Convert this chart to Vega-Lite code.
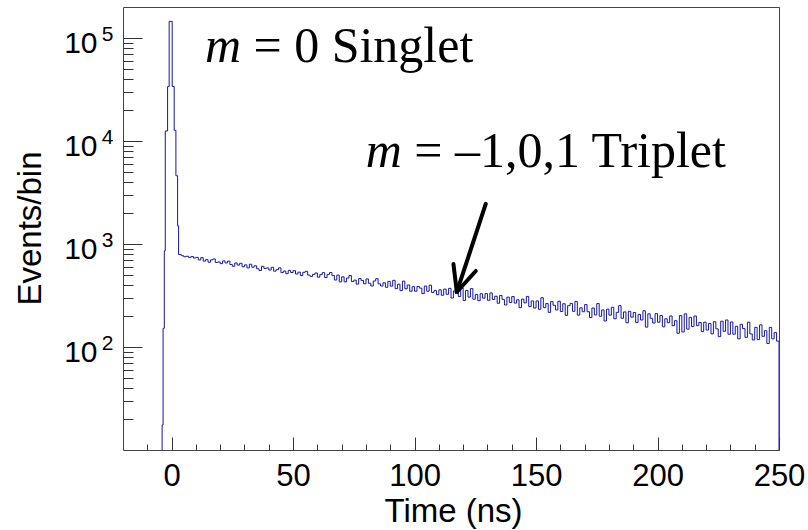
{
  "$schema": "https://vega.github.io/schema/vega-lite/v6.json",
  "width": 656,
  "height": 443,
  "autosize": "none",
  "padding": {"left": 123, "top": 7, "right": 29, "bottom": 80},
  "background": "white",
  "config": {"view": {"stroke": "#444", "strokeWidth": 1}},
  "resolve": {"axis": {"x": "independent", "y": "independent"}},
  "datasets": {
    "hist": [
      {"t":-20,"n":1},{"t":-3.9,"n":17.5},{"t":-3.5,"n":152},{"t":-3.0,"n":860},{"t":-2.6,"n":12500},{"t":-1.65,"n":33800},{"t":-1.0,"n":145000},{"t":0.25,"n":33800},{"t":1.07,"n":12700},{"t":1.77,"n":4600},{"t":2.47,"n":1500},{"t":2.88,"n":790},
      {"t":4,"n":770},{"t":5,"n":752},{"t":6,"n":760},{"t":7,"n":742},{"t":8,"n":755},{"t":9,"n":731},
      {"t":10,"n":742},{"t":11,"n":700},{"t":12,"n":737},{"t":13,"n":682},{"t":14,"n":705},{"t":15,"n":665},{"t":16,"n":701},{"t":17,"n":716},{"t":18,"n":662},{"t":19,"n":670},
      {"t":20,"n":645},{"t":21,"n":686},{"t":22,"n":655},{"t":23,"n":682},{"t":24,"n":632},{"t":25,"n":608},{"t":26,"n":654},{"t":27,"n":624},{"t":28,"n":650},{"t":29,"n":601},
      {"t":30,"n":627},{"t":31,"n":586},{"t":32,"n":636},{"t":33,"n":595},{"t":34,"n":615},{"t":35,"n":575},{"t":36,"n":553},{"t":37,"n":607},{"t":38,"n":579},{"t":39,"n":586},
      {"t":40,"n":559},{"t":41,"n":594},{"t":42,"n":545},{"t":43,"n":564},{"t":44,"n":587},{"t":45,"n":528},{"t":46,"n":546},{"t":47,"n":515},{"t":48,"n":554},{"t":49,"n":529},
      {"t":50,"n":551},{"t":51,"n":511},{"t":52,"n":533},{"t":53,"n":494},{"t":54,"n":531},{"t":55,"n":543},{"t":56,"n":499},{"t":57,"n":485},{"t":58,"n":507},{"t":59,"n":523},
      {"t":60,"n":476},{"t":61,"n":504},{"t":62,"n":527},{"t":63,"n":472},{"t":64,"n":507},{"t":65,"n":528},{"t":66,"n":494},{"t":67,"n":447},{"t":68,"n":499},{"t":69,"n":429},
      {"t":70,"n":480},{"t":71,"n":429},{"t":72,"n":467},{"t":73,"n":494},{"t":74,"n":432},{"t":75,"n":446},{"t":76,"n":408},{"t":77,"n":462},{"t":78,"n":442},{"t":79,"n":411},
      {"t":80,"n":458},{"t":81,"n":416},{"t":82,"n":391},{"t":83,"n":437},{"t":84,"n":461},{"t":85,"n":410},{"t":86,"n":391},{"t":87,"n":420},{"t":88,"n":380},{"t":89,"n":434},
      {"t":90,"n":390},{"t":91,"n":444},{"t":92,"n":369},{"t":93,"n":407},{"t":94,"n":353},{"t":95,"n":436},{"t":96,"n":368},{"t":97,"n":400},{"t":98,"n":348},{"t":99,"n":385},
      {"t":100,"n":348},{"t":101,"n":387},{"t":102,"n":373},{"t":103,"n":330},{"t":104,"n":391},{"t":105,"n":348},{"t":106,"n":398},{"t":107,"n":338},{"t":108,"n":353},{"t":109,"n":322},
      {"t":110,"n":359},{"t":111,"n":318},{"t":112,"n":365},{"t":113,"n":325},{"t":114,"n":371},{"t":115,"n":299},{"t":116,"n":350},{"t":117,"n":337},{"t":118,"n":309},{"t":119,"n":374},
      {"t":120,"n":283},{"t":121,"n":354},{"t":122,"n":305},{"t":123,"n":369},{"t":124,"n":291},{"t":125,"n":324},{"t":126,"n":282},{"t":127,"n":329},{"t":128,"n":298},{"t":129,"n":330},
      {"t":130,"n":284},{"t":131,"n":335},{"t":132,"n":289},{"t":133,"n":311},{"t":134,"n":266},{"t":135,"n":316},{"t":136,"n":290},{"t":137,"n":256},{"t":138,"n":305},{"t":139,"n":270},
      {"t":140,"n":309},{"t":141,"n":267},{"t":142,"n":287},{"t":143,"n":241},{"t":144,"n":292},{"t":145,"n":268},{"t":146,"n":310},{"t":147,"n":247},{"t":148,"n":280},{"t":149,"n":239},
      {"t":150,"n":280},{"t":151,"n":232},{"t":152,"n":301},{"t":153,"n":241},{"t":154,"n":264},{"t":155,"n":217},{"t":156,"n":276},{"t":157,"n":254},{"t":158,"n":229},{"t":159,"n":278},
      {"t":160,"n":221},{"t":161,"n":263},{"t":162,"n":203},{"t":163,"n":252},{"t":164,"n":265},{"t":165,"n":222},{"t":166,"n":277},{"t":167,"n":204},{"t":168,"n":240},{"t":169,"n":220},
      {"t":170,"n":258},{"t":171,"n":220},{"t":172,"n":193},{"t":173,"n":239},{"t":174,"n":205},{"t":175,"n":264},{"t":176,"n":199},{"t":177,"n":229},{"t":178,"n":179},{"t":179,"n":233},
      {"t":180,"n":204},{"t":181,"n":243},{"t":182,"n":188},{"t":183,"n":217},{"t":184,"n":252},{"t":185,"n":190},{"t":186,"n":219},{"t":187,"n":172},{"t":188,"n":222},{"t":189,"n":195},
      {"t":190,"n":216},{"t":191,"n":173},{"t":192,"n":207},{"t":193,"n":183},{"t":194,"n":225},{"t":195,"n":156},{"t":196,"n":210},{"t":197,"n":190},{"t":198,"n":171},{"t":199,"n":211},
      {"t":200,"n":174},{"t":201,"n":202},{"t":202,"n":157},{"t":203,"n":188},{"t":204,"n":172},{"t":205,"n":200},{"t":206,"n":161},{"t":207,"n":180},{"t":208,"n":136},{"t":209,"n":202},
      {"t":210,"n":140},{"t":211,"n":210},{"t":212,"n":149},{"t":213,"n":194},{"t":214,"n":158},{"t":215,"n":200},{"t":216,"n":161},{"t":217,"n":173},{"t":218,"n":141},{"t":219,"n":174},
      {"t":220,"n":146},{"t":221,"n":169},{"t":222,"n":134},{"t":223,"n":176},{"t":224,"n":150},{"t":225,"n":126},{"t":226,"n":178},{"t":227,"n":142},{"t":228,"n":183},{"t":229,"n":133},
      {"t":230,"n":175},{"t":231,"n":133},{"t":232,"n":159},{"t":233,"n":120},{"t":234,"n":166},{"t":235,"n":151},{"t":236,"n":124},{"t":237,"n":174},{"t":238,"n":134},{"t":239,"n":117},
      {"t":240,"n":155},{"t":241,"n":118},{"t":242,"n":164},{"t":243,"n":127},{"t":244,"n":144},{"t":245,"n":108},{"t":246,"n":155},{"t":247,"n":120},{"t":248,"n":138},{"t":249,"n":114},
      {"t":250,"n":1}
    ],
    "labels": [
      {"part":"var","x":13.7,"y":58900,"txt":"m"},
      {"part":"rest","x":33.7,"y":58900,"txt":"= 0 Singlet"},
      {"part":"var","x":79.9,"y":5550,"txt":"m"},
      {"part":"rest","x":99.9,"y":5550,"txt":"= \u20131,0,1 Triplet"}
    ],
    "arrow": [
      {"x":129.3,"y":2450,"x2":117.4,"y2":342},
      {"x":116.0,"y":640,"x2":117.4,"y2":342},
      {"x":125.2,"y":547,"x2":117.4,"y2":342}
    ]
  },
  "layer": [
    {
      "data": {"name": "hist"},
      "mark": {"type": "line", "interpolate": "step-after", "color": "#1515a8", "strokeWidth": 1, "clip": true},
      "encoding": {
        "x": {
          "field": "t", "type": "quantitative",
          "scale": {"domain": [-20, 250], "nice": false, "zero": false},
          "axis": {
            "orient": "bottom",
            "values": [0,50,100,150,200,250],
            "tickSize": -13, "tickColor": "#333",
            "domain": false, "grid": false,
            "labelFont": "Liberation Sans", "labelFontSize": 31, "labelColor": "black",
            "labelPadding": 24, "labelFlush": false, "labelOverlap": false,
            "title": "Time (ns)", "titleFont": "Liberation Sans", "titleFontSize": 33, "titleFontWeight": "normal", "titleColor": "black",
            "titleX": 330, "titleY": 61, "titleBaseline": "middle", "titleAlign": "center"
          }
        },
        "y": {
          "field": "n", "type": "quantitative",
          "scale": {"type": "log", "domain": [10, 200000], "nice": false},
          "axis": {
            "orient": "left",
            "values": [100,1000,10000,100000],
            "labelExpr": "'10'",
            "tickSize": -19, "tickColor": "#333",
            "domain": false, "grid": false,
            "labelFont": "Liberation Sans", "labelFontSize": 30, "labelColor": "black",
            "labelPadding": 45, "labelFlush": false, "labelOverlap": false, "labelOffset": 5,
            "title": "Events/bin", "titleFont": "Liberation Sans", "titleFontSize": 33, "titleFontWeight": "normal", "titleColor": "black",
            "titleX": -93, "titleY": 221, "titleAngle": 270, "titleBaseline": "middle", "titleAlign": "center"
          }
        }
      }
    },
    {
      "data": {"name": "arrow"},
      "mark": {"type": "rule", "strokeWidth": 4, "color": "black", "strokeCap": "round"},
      "encoding": {
        "x": {
          "field": "x", "type": "quantitative",
          "axis": {
            "orient": "bottom",
            "values": [-10,10,20,30,40,60,70,80,90,110,120,130,140,160,170,180,190,210,220,230,240],
            "tickSize": -6, "tickColor": "#333",
            "domain": false, "grid": false, "labels": false, "title": null
          }
        },
        "y": {
          "field": "y", "type": "quantitative",
          "axis": {
            "orient": "left",
            "values": [20,30,40,50,60,70,80,90,200,300,400,500,600,700,800,900,2000,3000,4000,5000,6000,7000,8000,9000,20000,30000,40000,50000,60000,70000,80000,90000],
            "tickSize": -10, "tickColor": "#333",
            "domain": false, "grid": false, "labels": false, "title": null
          }
        },
        "x2": {"field": "x2"},
        "y2": {"field": "y2"}
      }
    },
    {
      "data": {"name": "labels"},
      "transform": [{"filter": "datum.part == 'var'"}],
      "mark": {"type": "text", "font": "Liberation Serif", "fontSize": 50, "fontStyle": "italic", "align": "left", "baseline": "alphabetic", "color": "black"},
      "encoding": {
        "x": {"field": "x", "type": "quantitative", "axis": null},
        "y": {
          "field": "y", "type": "quantitative",
          "axis": {
            "orient": "left",
            "values": [100,1000,10000,100000],
            "labelExpr": "datum.value == 100 ? '2' : datum.value == 1000 ? '3' : datum.value == 10000 ? '4' : '5'",
            "ticks": false, "tickSize": 0,
            "domain": false, "grid": false,
            "labelFont": "Liberation Sans", "labelFontSize": 21, "labelColor": "black",
            "labelPadding": 10, "labelFlush": false, "labelOverlap": false, "labelOffset": -4,
            "title": null
          }
        },
        "text": {"field": "txt"}
      }
    },
    {
      "data": {"name": "labels"},
      "transform": [{"filter": "datum.part == 'rest'"}],
      "mark": {"type": "text", "font": "Liberation Serif", "fontSize": 50, "align": "left", "baseline": "alphabetic", "color": "black"},
      "encoding": {
        "x": {"field": "x", "type": "quantitative", "axis": null},
        "y": {"field": "y", "type": "quantitative", "axis": null},
        "text": {"field": "txt"}
      }
    }
  ]
}
